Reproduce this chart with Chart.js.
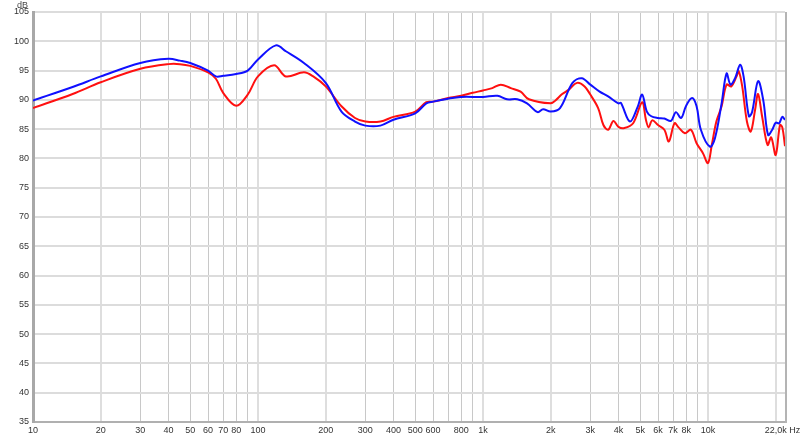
<!DOCTYPE html>
<html>
<head>
<meta charset="utf-8">
<script src="https://cdn.jsdelivr.net/npm/chart.js@4/dist/chart.umd.min.js"></script>
<style>
html, body { margin: 0; padding: 0; background: #fff; }
#wrap { width: 800px; height: 438px; position: relative; }
</style>
</head>
<body>
<div id="wrap"><canvas id="myChart"></canvas></div>
<script>
// blue curve (Hz / dB)
const blueFreq = [10, 15, 20, 30, 40, 45, 50, 60, 65, 70, 80, 90, 100, 120, 133, 160, 200, 235, 270, 300, 350, 400, 500, 560, 600, 700, 800, 1000, 1160, 1280, 1420, 1570, 1750, 1850, 2000, 2200, 2500, 2750, 3000, 3300, 3600, 4000, 4100, 4500, 4880, 5100, 5350, 5600, 6000, 6400, 6850, 7200, 7600, 8000, 8500, 8900, 9300, 10200, 10750, 11500, 12100, 12600, 13200, 13900, 14400, 15200, 15700, 16700, 17600, 18500, 19300, 20000, 20700, 21400, 22000];
const blueDb = [89.9, 92.2, 94.0, 96.3, 97.0, 96.7, 96.3, 95.0, 94.0, 94.1, 94.4, 95.0, 96.9, 99.3, 98.3, 96.3, 92.9, 88.0, 86.3, 85.6, 85.6, 86.6, 87.7, 89.4, 89.7, 90.2, 90.5, 90.5, 90.7, 90.1, 90.1, 89.4, 87.9, 88.4, 88.0, 88.6, 92.9, 93.7, 92.6, 91.4, 90.6, 89.4, 89.5, 86.3, 88.9, 90.9, 88.0, 87.2, 86.9, 86.8, 86.4, 87.9, 86.9, 89.0, 90.3, 88.9, 84.9, 82.0, 83.5, 89.4, 94.5, 92.6, 93.7, 96.0, 94.0, 87.2, 87.9, 93.2, 90.0, 84.0, 84.9, 86.1, 86.0, 87.1, 86.6];

// red curve
const redFreq = [10, 15, 20, 30, 40, 45, 50, 60, 65, 70, 80, 90, 100, 118, 133, 160, 176, 200, 235, 270, 300, 350, 400, 500, 560, 600, 700, 800, 900, 1000, 1100, 1200, 1330, 1470, 1600, 2000, 2100, 2250, 2400, 2620, 2830, 3000, 3250, 3430, 3600, 3800, 4000, 4250, 4650, 5100, 5300, 5450, 5650, 6000, 6400, 6700, 7100, 7400, 7900, 8400, 8900, 9500, 10000, 10400, 10900, 11500, 12100, 12700, 13400, 13700, 14200, 14900, 15500, 16200, 16700, 17400, 18400, 19100, 20000, 20900, 21400, 22000];
const redDb = [88.6, 91.0, 93.0, 95.3, 96.1, 96.1, 95.8, 94.7, 93.6, 91.2, 89.0, 90.9, 94.0, 95.9, 94.0, 94.7, 94.0, 92.3, 88.9, 86.9, 86.3, 86.3, 87.1, 88.0, 89.6, 89.7, 90.3, 90.7, 91.2, 91.6, 92.0, 92.6, 92.0, 91.4, 90.1, 89.4, 89.9, 91.0, 91.7, 92.9, 92.3, 90.9, 88.6, 85.7, 84.9, 86.4, 85.4, 85.2, 86.0, 89.6, 86.6, 85.3, 86.5, 85.7, 84.9, 82.9, 86.0, 85.3, 84.3, 84.9, 82.6, 80.9, 79.2, 82.3, 86.3, 88.9, 92.6, 92.3, 94.0, 94.9, 92.3, 86.3, 84.6, 88.3, 91.0, 87.2, 82.3, 83.6, 80.6, 85.7, 85.3, 82.1];

// x grid lines and their labels ('' = line only)
const xTicks = [10, 20, 30, 40, 50, 60, 70, 80, 90, 100, 200, 300, 400, 500, 600, 700, 800, 900, 1000, 2000, 3000, 4000, 5000, 6000, 7000, 8000, 9000, 10000, 20000, 22000];
const xTickLabels = ['10', '20', '30', '40', '50', '60', '70', '80', '', '100', '200', '300', '400', '500', '600', '', '800', '', '1k', '2k', '3k', '4k', '5k', '6k', '7k', '8k', '', '10k', '', '22,0k Hz  '];
const majorLines = [10, 20, 100, 200, 1000, 2000, 10000, 20000];

const yMin = 35, yMax = 105, yStep = 5;

const toPoints = (f, d) => f.map((v, i) => ({ x: v, y: d[i] }));

const tickFont = { family: 'Liberation Sans, Arial, sans-serif', size: 9 };

// extra frame line on the right + the "dB" caption
const extras = {
    id: 'extras',
    afterDraw(chart) {
        const c = chart.ctx, a = chart.chartArea;
        c.save();
        c.strokeStyle = '#b4b4b4';
        c.lineWidth = 2;
        c.beginPath();
        c.moveTo(a.right + 1, a.top);
        c.lineTo(a.right + 1, a.bottom + 1);
        c.stroke();
        c.fillStyle = '#444';
        c.font = '9px Liberation Sans, Arial, sans-serif';
        c.textAlign = 'right';
        c.textBaseline = 'top';
        c.fillText('dB', 28, 1);
        c.restore();
    }
};

function loadChart() {
    const ctx = document.getElementById('myChart').getContext('2d');
    new Chart(ctx, {
        type: 'line',
        data: {
            datasets: [{
                label: 'L',
                data: toPoints(blueFreq, blueDb),
                borderColor: '#1010ff',
                borderWidth: 2,
                pointRadius: 0,
                tension: 0.35
            }, {
                label: 'R',
                data: toPoints(redFreq, redDb),
                borderColor: '#ff1010',
                borderWidth: 2,
                pointRadius: 0,
                tension: 0.35
            }]
        },
        options: {
            responsive: true,
            maintainAspectRatio: false,
            animation: false,
            events: [],
            layout: { padding: { top: 12, right: 0, left: 0, bottom: 0 } },
            plugins: { legend: { display: false }, tooltip: { enabled: false } },
            scales: {
                x: {
                    type: 'logarithmic',
                    min: 10,
                    max: 22000,
                    afterBuildTicks: (s) => { s.ticks = xTicks.map(v => ({ value: v })); },
                    afterFit: (s) => { s.height = 16; s.paddingRight = 15; s.paddingLeft = 0; },
                    ticks: {
                        autoSkip: false,
                        maxRotation: 0,
                        padding: 3,
                        color: '#333',
                        font: tickFont,
                        callback: (v, i) => xTickLabels[i]
                    },
                    grid: {
                        drawTicks: false,
                        color: (c) => majorLines.includes(c.tick && c.tick.value) ? '#dedede' : '#c8c8c8',
                        lineWidth: (c) => majorLines.includes(c.tick && c.tick.value) ? 2 : 1
                    },
                    border: { color: '#b0b0b0', width: 2 }
                },
                y: {
                    min: yMin,
                    max: yMax,
                    afterFit: (s) => { s.width = 33; },
                    ticks: { stepSize: yStep, padding: 4, color: '#333', font: tickFont },
                    grid: { drawTicks: false, color: '#dcdcdc', lineWidth: 2 },
                    border: { color: '#a8a8a8', width: 3 }
                }
            }
        },
        plugins: [extras]
    });
}
document.addEventListener('DOMContentLoaded', loadChart);
</script>
</body>
</html>
